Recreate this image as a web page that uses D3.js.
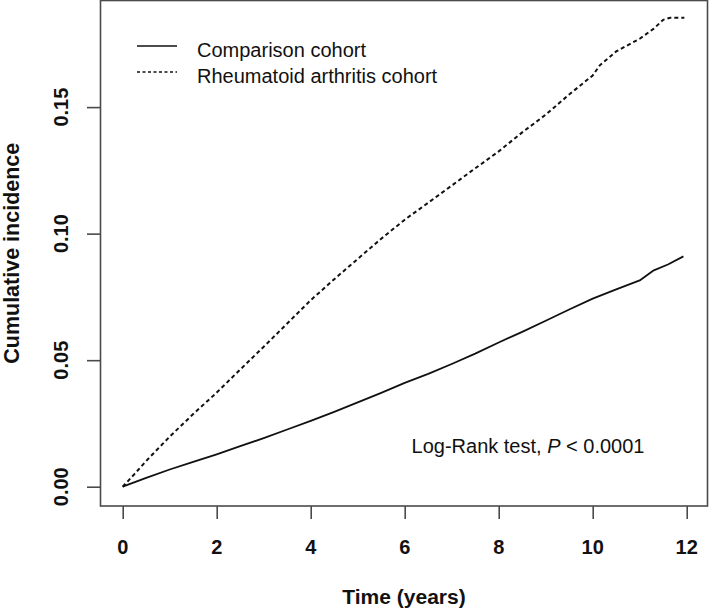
<!DOCTYPE html>
<html>
<head>
<meta charset="utf-8">
<script src="https://cdn.jsdelivr.net/npm/d3@7"></script>
<style>
  html, body { margin: 0; padding: 0; background: #fff; }
  svg { display: block; font-family: "Liberation Sans", Arial, sans-serif; }
</style>
</head>
<body>
<svg id="chart" width="709" height="610"></svg>
<script>
// ---- data ----
const xTicks = [0, 2, 4, 6, 8, 10, 12];
const yTicks = [0.00, 0.05, 0.10, 0.15];
const yTickLabels = ["0.00", "0.05", "0.10", "0.15"];
const seriesNames = ["Comparison cohort", "Rheumatoid arthritis cohort"];

const compTime = [0, 0.5, 1, 1.5, 2, 2.5, 3, 3.5, 4, 4.5, 5, 5.5, 6, 6.5, 7, 7.5, 8, 8.5, 9, 9.5, 10, 10.5, 11, 11.3, 11.6, 11.93];
const compValue = [0, 0.0035, 0.0068, 0.0098, 0.0128, 0.016, 0.0192, 0.0226, 0.026, 0.0296, 0.0333, 0.0371, 0.041, 0.0446, 0.0485, 0.0526, 0.057, 0.0612, 0.0656, 0.070, 0.0743, 0.078, 0.0815, 0.0855, 0.0878, 0.091];

const raTime = [0, 0.25, 0.5, 1, 1.5, 2, 2.5, 3, 3.5, 4, 4.5, 5, 5.5, 6, 6.5, 7, 7.5, 8, 8.5, 9, 9.5, 10, 10.15, 10.5, 11, 11.3, 11.5, 11.65, 11.95];
const raValue = [0, 0.005, 0.0102, 0.0198, 0.0287, 0.0372, 0.0463, 0.0553, 0.0645, 0.0737, 0.082, 0.090, 0.098, 0.1055, 0.1122, 0.119, 0.1258, 0.1325, 0.140, 0.147, 0.155, 0.1625, 0.1665, 0.172, 0.177, 0.181, 0.1845, 0.1853, 0.1853];

const pText = "Log-Rank test, ";

// ---- layout ----
const svg = d3.select("#chart");
const mLeft = 100, mRight = 708, mTop = 0.5, mBottom = 506;

const x = d3.scaleLinear().domain([-0.483, 12.453]).range([mLeft, mRight]);
const y = d3.scaleLinear().domain([-0.00762, 0.19212]).range([mBottom, mTop]);

const axisColor = "#4a4a4a";

// box
svg.append("rect")
  .attr("x", mLeft + 0.5).attr("y", mTop)
  .attr("width", mRight - mLeft - 1).attr("height", mBottom - mTop)
  .attr("fill", "none").attr("stroke", axisColor).attr("stroke-width", 1.6);

// x axis
const xAxis = d3.axisBottom(x).tickValues(xTicks).tickSize(13).tickPadding(0).tickFormat("");
const gx = svg.append("g").attr("transform", `translate(0,${mBottom})`).call(xAxis);
gx.select(".domain").remove();
gx.selectAll(".tick line").attr("stroke", axisColor).attr("stroke-width", 1.6);
svg.append("g").selectAll("text").data(xTicks).join("text")
  .attr("x", d => x(d)).attr("y", 553.5)
  .attr("text-anchor", "middle")
  .attr("font-size", 20).attr("font-weight", "bold").attr("fill", "#111")
  .text(d => d);

// y axis
const yAxis = d3.axisLeft(y).tickValues(yTicks).tickSize(13).tickPadding(0).tickFormat("");
const gy = svg.append("g").attr("transform", `translate(${mLeft},0)`).call(yAxis);
gy.select(".domain").remove();
gy.selectAll(".tick line").attr("stroke", axisColor).attr("stroke-width", 1.6);
svg.append("g").selectAll("text").data(yTicks).join("text")
  .attr("transform", (d, i) => `translate(68,${y(d)}) rotate(-90)`)
  .attr("text-anchor", "middle")
  .attr("font-size", 20).attr("font-weight", "bold").attr("fill", "#111")
  .text((d, i) => yTickLabels[i]);

// axis titles
svg.append("text")
  .attr("x", (mLeft + mRight) / 2).attr("y", 604)
  .attr("text-anchor", "middle")
  .attr("font-size", 21).attr("font-weight", "bold").attr("fill", "#111")
  .text("Time (years)");
svg.append("text")
  .attr("transform", `translate(19,${(mTop + mBottom) / 2}) rotate(-90)`)
  .attr("text-anchor", "middle")
  .attr("font-size", 21.5).attr("font-weight", "bold").attr("fill", "#111")
  .text("Cumulative incidence");

// lines
const line = d3.line().x(d => x(d[0])).y(d => y(d[1]));
const compData = compTime.map((t, i) => [t, compValue[i]]);
const raData = raTime.map((t, i) => [t, raValue[i]]);

svg.append("path").datum(compData)
  .attr("d", line).attr("fill", "none")
  .attr("stroke", "#111").attr("stroke-width", 1.8).attr("stroke-linejoin", "round");
svg.append("path").datum(raData)
  .attr("d", line).attr("fill", "none")
  .attr("stroke", "#111").attr("stroke-width", 2).attr("stroke-dasharray", "4,3");

// legend
const legend = svg.append("g");
const legY = [46, 72];
const dashes = [null, "3,2.5"];
seriesNames.forEach((name, i) => {
  legend.append("line")
    .attr("x1", 137).attr("x2", 177).attr("y1", legY[i]).attr("y2", legY[i])
    .attr("stroke", "#111").attr("stroke-width", i === 0 ? 1.6 : 1.3)
    .attr("stroke-dasharray", dashes[i]);
  legend.append("text")
    .attr("x", 197).attr("y", legY[i] + 10.5)
    .attr("font-size", 20).attr("fill", "#111")
    .text(name);
});

// annotation
const ann = svg.append("text")
  .attr("x", 528).attr("y", 453.3)
  .attr("text-anchor", "middle")
  .attr("font-size", 20).attr("fill", "#111");
ann.append("tspan").text(pText);
ann.append("tspan").attr("font-style", "italic").text("P");
ann.append("tspan").text(" < 0.0001");
</script>
</body>
</html>
